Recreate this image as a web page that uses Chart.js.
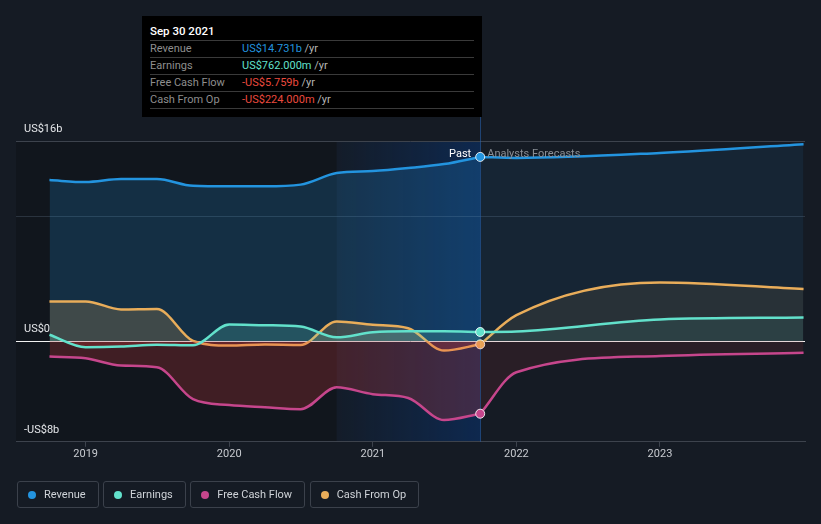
<!DOCTYPE html>
<html>
<head>
<meta charset="utf-8">
<script src="https://cdn.jsdelivr.net/npm/chart.js@4.4.0/dist/chart.umd.min.js"></script>
<style>
  body { margin: 0; background: #151b24; font-family: Roboto, 'Open Sans', sans-serif; }
  #wrap { position: relative; width: 821px; height: 524px; overflow: hidden; }
  #wrap canvas { position: absolute; left: 0; top: 0; }
  .tip { position: absolute; left: 142px; top: 16px; width: 340px; height: 101px; background: #000;
         box-sizing: border-box; padding: 0 8px; font-size: 11px; }
  .tip .title { height: 24px; padding-top: 4px; line-height: 22px; box-sizing: border-box; color: #fff; font-weight: 500; font-size: 11.5px; }
  .tip .rows { border-bottom: 1px solid #3a3a3a; }
  .tip .row { display: flex; height: 17px; line-height: 16px; border-top: 1px solid #3a3a3a; box-sizing: border-box; }
  .tip .lbl { width: 92px; color: #8e8e8e; }
  .tip .unit { color: #b5b5b5; }
  .legend { position: absolute; left: 17px; top: 481px; display: flex; gap: 4.5px; }
  .legend .item { height: 27px; box-sizing: border-box; border: 1px solid #3b414b; border-radius: 3px;
                  padding: 0 12px 0 10px; display: flex; align-items: center; font-size: 11px; color: #cfd3d8; }
  .legend .dot { width: 8px; height: 8px; border-radius: 50%; margin-right: 8px; }
</style>
</head>
<body>
<div id="wrap">
  <canvas id="chart" width="821" height="524"></canvas>
  <div class="tip" id="tip"></div>
  <div class="legend" id="legend"></div>
</div>
<script>
// reported quarters (trailing twelve months), US$ billions
const pastDates = ['2018-09-30', '2018-12-31', '2019-03-31', '2019-06-30', '2019-09-30', '2019-12-31',
                   '2020-03-31', '2020-06-30', '2020-09-30', '2020-12-31', '2021-03-31', '2021-06-30', '2021-09-30'];
const revenuePast  = [12.88, 12.72, 12.96, 12.96, 12.42, 12.38, 12.38, 12.52, 13.44, 13.60, 13.84, 14.16, 14.731];
const earningsPast = [0.54, -0.45, -0.40, -0.25, -0.30, 1.36, 1.30, 1.20, 0.34, 0.74, 0.82, 0.82, 0.762];
const fcfPast      = [-1.20, -1.33, -1.92, -2.05, -4.60, -5.07, -5.25, -5.40, -3.65, -4.20, -4.50, -6.26, -5.759];
const cfoPast      = [3.20, 3.20, 2.56, 2.60, 0.05, -0.32, -0.24, -0.27, 1.60, 1.33, 1.06, -0.72, -0.224];

// analyst forecasts
const forecastDates = ['2021-09-30', '2021-12-31', '2022-12-31', '2023-12-31'];
const revenueForecast  = [14.731, 14.65, 15.05, 15.75];
const earningsForecast = [0.762, 0.80, 1.76, 1.92];
const fcfForecast      = [-5.759, -2.45, -1.15, -0.90];
const cfoForecast      = [-0.224, 2.10, 4.72, 4.20];

const xTicks = [2019, 2020, 2021, 2022, 2023];
const yTicks = [-8, 0, 10, 16];
const yTickLabels = ['-US$8b', 'US$0', '', 'US$16b'];

const highlightStart = '2020-09-30';
const highlightEnd = '2021-09-30';

const series = [
    { name: 'Revenue', color: '#2394df', rgb: '35,148,223', past: revenuePast, fcst: revenueForecast,
      tip: 'US$14.731b', tipColor: '#2394df' },
    { name: 'Earnings', color: '#62e1cb', rgb: '98,225,203', past: earningsPast, fcst: earningsForecast,
      tip: 'US$762.000m', tipColor: '#62e1cb' },
    { name: 'Free Cash Flow', color: '#c6468c', rgb: '198,70,140', past: fcfPast, fcst: fcfForecast,
      tip: '-US$5.759b', tipColor: '#ea4a3e' },
    { name: 'Cash From Op', color: '#e9ad5a', rgb: '233,173,90', past: cfoPast, fcst: cfoForecast,
      tip: '-US$224.000m', tipColor: '#ea4a3e' }
];
const drawOrder = { 'Revenue': 8, 'Cash From Op': 6, 'Free Cash Flow': 4, 'Earnings': 2 };

function toYear(d) {
    const [y, m, day] = d.split('-').map(Number);
    const start = Date.UTC(y, 0, 1), end = Date.UTC(y + 1, 0, 1);
    return y + (Date.UTC(y, m - 1, day) - start + 86400000) / (end - start);
}

function points(dates, values) {
    return dates.map((d, i) => ({ x: toYear(d), y: values[i] }));
}

const datasets = [];
series.forEach(s => {
    const last = s.past.length - 1;
    datasets.push({
        label: s.name,
        data: points(pastDates, s.past),
        borderColor: s.color,
        borderWidth: 2.5,
        fill: { target: 'origin', above: `rgba(${s.rgb},0.2)`, below: 'rgba(230,60,60,0.22)' },
        pointRadius: ctx => ctx.dataIndex === last ? 4.5 : 0,
        pointBackgroundColor: s.color,
        pointBorderColor: 'rgba(255,255,255,0.85)',
        pointBorderWidth: 1,
        order: drawOrder[s.name]
    });
    datasets.push({
        label: s.name + ' forecast',
        data: points(forecastDates, s.fcst),
        borderColor: s.color,
        borderWidth: 2.5,
        fill: { target: 'origin', above: `rgba(${s.rgb},0.09)`, below: 'rgba(230,60,60,0.1)' },
        pointRadius: 0,
        order: drawOrder[s.name] + 1
    });
});

const backdrop = {
    id: 'backdrop',
    beforeDraw(chart) {
        const { ctx, chartArea: a, scales: { x } } = chart;
        const x0 = x.getPixelForValue(toYear(highlightStart));
        const x1 = x.getPixelForValue(toYear(highlightEnd));
        ctx.save();
        ctx.fillStyle = 'rgba(0,0,0,0.18)';
        ctx.fillRect(a.left, a.top, x0 - a.left, a.bottom - a.top);
        const g = ctx.createLinearGradient(x0, 0, x1, 0);
        g.addColorStop(0, 'rgba(0,70,170,0.04)');
        g.addColorStop(1, 'rgba(0,70,170,0.32)');
        ctx.fillStyle = g;
        ctx.fillRect(x0, a.top, x1 - x0, a.bottom - a.top);
        ctx.restore();
    },
    beforeDatasetsDraw(chart) {
        const { ctx, chartArea: a, scales: { x } } = chart;
        const px = Math.round(x.getPixelForValue(toYear(highlightEnd))) + 0.5;
        ctx.save();
        ctx.strokeStyle = 'rgba(40,100,180,0.55)';
        ctx.lineWidth = 1;
        ctx.beginPath();
        ctx.moveTo(px, 117);
        ctx.lineTo(px, a.bottom);
        ctx.stroke();
        ctx.restore();
    },
    afterDraw(chart) {
        const { ctx, scales: { x, y } } = chart;
        const px = x.getPixelForValue(toYear(highlightEnd));
        const py = y.getPixelForValue(revenuePast[revenuePast.length - 1]) - 3;
        ctx.save();
        ctx.font = '11px Roboto, "Open Sans", sans-serif';
        ctx.textBaseline = 'middle';
        ctx.textAlign = 'right';
        ctx.fillStyle = '#ffffff';
        ctx.fillText('Past', px - 9, py);
        ctx.textAlign = 'left';
        ctx.fillStyle = '#8a8f96';
        ctx.fillText('Analysts Forecasts', px + 7, py);
        ctx.restore();
    }
};

Chart.defaults.font.family = 'Roboto, "Open Sans", sans-serif';
Chart.defaults.font.size = 11;

new Chart(document.getElementById('chart').getContext('2d'), {
    type: 'line',
    data: { datasets },
    options: {
        responsive: false,
        animation: false,
        events: [],
        layout: { padding: { left: 0, right: 16, top: 141, bottom: 62 } },
        elements: { line: { cubicInterpolationMode: 'monotone' } },
        plugins: { legend: { display: false }, tooltip: { enabled: false } },
        scales: {
            x: {
                type: 'linear',
                min: 2018.515,
                max: 2024.01,
                afterBuildTicks: axis => { axis.ticks = xTicks.map(v => ({ value: v })); },
                ticks: { color: '#c8cbd0', padding: 1, callback: v => String(v) },
                grid: { drawOnChartArea: false, drawTicks: true, tickLength: 5, color: '#3d434d' },
                border: { display: true, color: '#3d434d' }
            },
            y: {
                min: -8,
                max: 16,
                afterBuildTicks: axis => { axis.ticks = yTicks.map(v => ({ value: v })); },
                ticks: {
                    mirror: true, padding: 8, labelOffset: -12, color: '#e4e6e9',
                    callback: v => yTickLabels[yTicks.indexOf(v)]
                },
                grid: {
                    drawTicks: false,
                    color: ctx => {
                        const v = ctx.tick && ctx.tick.value;
                        if (v === 0) return '#f2f2f2';
                        if (v === 16) return '#3d434d';
                        if (v === 10) return 'rgba(120,140,160,0.25)';
                        return 'rgba(0,0,0,0)';
                    }
                },
                border: { display: false }
            }
        }
    },
    plugins: [backdrop]
});

// tooltip box for the latest reported period
document.getElementById('tip').innerHTML =
    '<div class="title">Sep 30 2021</div><div class="rows">' +
    series.map(s => `<div class="row"><span class="lbl">${s.name}</span>` +
        `<span style="color:${s.tipColor}">${s.tip}</span>&nbsp;<span class="unit">/yr</span></div>`).join('') +
    '</div>';

document.getElementById('legend').innerHTML = series.map(s =>
    `<div class="item"><span class="dot" style="background:${s.color}"></span>${s.name}</div>`).join('');
</script>
</body>
</html>
